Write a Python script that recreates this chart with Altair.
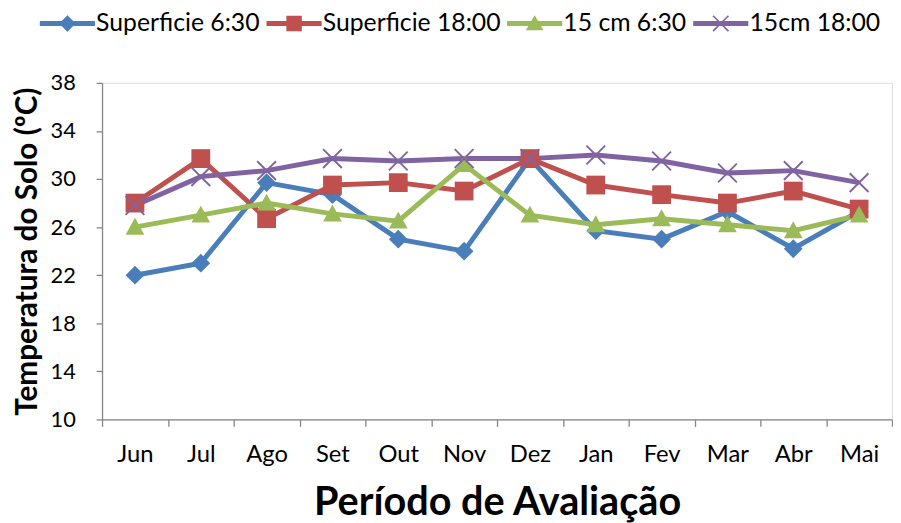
import altair as alt
import pandas as pd

months = ["Jun", "Jul", "Ago", "Set", "Out", "Nov", "Dez", "Jan", "Fev", "Mar", "Abr", "Mai"]
series_names = ["Superficie 6:30", "Superficie 18:00", "15 cm 6:30", "15cm 18:00"]
sup_630 = [22.0, 23.0, 29.7, 28.7, 25.0, 24.0, 31.7, 25.7, 25.0, 27.3, 24.2, 27.3]
sup_1800 = [28.0, 31.7, 26.7, 29.5, 29.7, 29.0, 31.7, 29.5, 28.7, 28.0, 29.0, 27.5]
cm15_630 = [26.0, 27.0, 28.0, 27.1, 26.5, 31.2, 27.0, 26.2, 26.7, 26.2, 25.7, 27.0]
cm15_1800 = [27.8, 30.2, 30.7, 31.7, 31.5, 31.7, 31.7, 32.0, 31.5, 30.5, 30.7, 29.7]
colors = ["#4A7EBB", "#C0504D", "#9BBB59", "#8064A2"]

rows = []
for name, vals in zip(series_names, [sup_630, sup_1800, cm15_630, cm15_1800]):
    for m, v in zip(months, vals):
        rows.append({"Mes": m, "Serie": name, "Temp": v})
df = pd.DataFrame(rows)

FONT = "Lato"

# marker shapes for plot
diamond = "M0,-1L1,0L0,1L-1,0Z"
square = "M-1,-1L1,-1L1,1L-1,1Z"
triangle = "M0,-1L1,0.8L-1,0.8Z"
xmark = ("M-0.93,-1.07L1.07,0.93L0.93,1.07L-1.07,-0.93Z "
         "M-1.07,0.93L0.93,-1.07L1.07,-0.93L-0.93,1.07Z")
marker_shapes = [diamond, square, triangle, xmark]

# legend shapes (line + marker)
bar = "M-1,-0.09L1,-0.09L1,0.09L-1,0.09Z "
lg_diamond = bar + "M0,-0.3L0.3,0L0,0.3L-0.3,0Z"
lg_square = bar + "M-0.28,-0.28L0.28,-0.28L0.28,0.28L-0.28,0.28Z"
lg_triangle = bar + "M0,-0.3L0.32,0.25L-0.32,0.25Z"
lg_x = bar + ("M-0.259,-0.301L0.301,0.259L0.259,0.301L-0.301,-0.259Z "
              "M-0.301,0.259L0.259,-0.301L0.301,-0.259L-0.259,0.301Z")

x_enc = alt.X("Mes:N", sort=months,
              scale=alt.Scale(type="band", paddingInner=0, paddingOuter=0),
              axis=alt.Axis(title="Período de Avaliação", tickBand="extent",
                            labelAngle=0, labelFont=FONT, labelFontSize=24,
                            labelColor="#000000", labelPadding=16,
                            titleFont=FONT, titleFontSize=40, titleFontWeight="bold",
                            titleColor="#000000", titlePadding=17,
                            domainColor="#868686", tickColor="#868686",
                            tickSize=7, domainWidth=1.3, tickWidth=1.3, grid=False))
y_enc = alt.Y("Temp:Q",
              scale=alt.Scale(domain=[10, 38], nice=False, zero=False),
              axis=alt.Axis(title="Temperatura do Solo (ºC)", values=list(range(10, 39, 4)),
                            labelFont=FONT, labelFontSize=22, labelColor="#000000",
                            labelPadding=21, titleFont=FONT, titleFontSize=30,
                            titleFontWeight="bold", titleColor="#000000", titlePadding=8,
                            domainColor="#868686", tickColor="#868686", tickSize=6,
                            domainWidth=1.3, tickWidth=1.3, grid=False))
color_scale = alt.Scale(domain=series_names, range=colors)

leg = alt.Legend(title=None, orient="none", legendX=-63, legendY=-88,
                 direction="horizontal",
                 columns=4, symbolSize=3100, symbolOpacity=1,
                 symbolStrokeWidth=0, symbolType="circle", labelFont=FONT, labelFontSize=25,
                 labelColor="#000000", columnPadding=6, labelOffset=1,
                 labelLimit=300)

color_enc = alt.Color("Serie:N", scale=color_scale, legend=leg)

lines = alt.Chart(df).mark_line(strokeWidth=5).encode(
    x=x_enc, y=y_enc, color=color_enc, detail="Serie:N")

point_layers = []
for name, shp in zip(series_names, marker_shapes):
    point_layers.append(
        alt.Chart(df).transform_filter(alt.datum.Serie == name)
        .mark_point(filled=True, size=360, opacity=1, strokeWidth=0, shape=shp)
        .encode(x=x_enc, y=y_enc, color=color_enc)
    )

legend_layer = alt.Chart(df).mark_point(filled=True, size=10, opacity=0, strokeWidth=0).encode(
    x=x_enc, y=y_enc,
    color=color_enc,
    shape=alt.Shape("Serie:N",
                    scale=alt.Scale(domain=series_names,
                                    range=[lg_diamond, lg_square, lg_triangle, lg_x]),
                    legend=leg)
)

chart = alt.layer(lines, *point_layers, legend_layer).properties(
    width=798, height=340, padding={"left": 4, "top": -15, "right": 0, "bottom": 0}
).configure_view(stroke=None).configure(background="#ffffff")

chart.save("out.html", embed_options={"renderer": "svg", "actions": False})
